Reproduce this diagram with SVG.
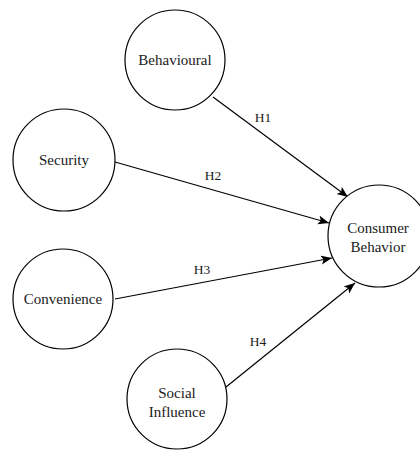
<svg xmlns="http://www.w3.org/2000/svg" width="420" height="450" viewBox="0 0 420 450">
  <style>
    .node circle { fill: #ffffff; stroke: #000000; stroke-width: 1.2; }
    .node text { font-family: "Liberation Serif", "Times New Roman", serif; font-size: 15px; fill: #1a1a1a; text-anchor: middle; }
    .edge line { stroke: #000000; stroke-width: 1.2; fill: none; }
    .label { font-family: "Liberation Serif", "Times New Roman", serif; font-size: 13.5px; fill: #1a1a1a; text-anchor: middle; }
  </style>
  <defs>
    <marker id="arrow" markerUnits="userSpaceOnUse" markerWidth="12" markerHeight="10" refX="11" refY="4.5" orient="auto">
      <path d="M0,0 L11,4.5 L0,9 L2.5,4.5 Z" fill="#000000"/>
    </marker>
  </defs>
  <rect width="420" height="450" fill="#ffffff"/>

  <g id="connectors" class="edge">
    <line x1="213" y1="97" x2="348" y2="197" marker-end="url(#arrow)"/>
    <line x1="115" y1="162" x2="329" y2="223" marker-end="url(#arrow)"/>
    <line x1="115" y1="299" x2="332" y2="258" marker-end="url(#arrow)"/>
    <line x1="226" y1="387" x2="355" y2="283" marker-end="url(#arrow)"/>
    <text class="label" x="263" y="122">H1</text>
    <text class="label" x="213" y="180">H2</text>
    <text class="label" x="202" y="274">H3</text>
    <text class="label" x="258" y="346">H4</text>
  </g>

  <g id="behavioural" class="node">
    <circle cx="175" cy="60" r="50"/>
    <text x="175" y="65">Behavioural</text>
  </g>
  <g id="security" class="node">
    <circle cx="64" cy="160" r="51"/>
    <text x="64" y="165">Security</text>
  </g>
  <g id="convenience" class="node">
    <circle cx="63" cy="299" r="50"/>
    <text x="63" y="304">Convenience</text>
  </g>
  <g id="social-influence" class="node">
    <circle cx="177" cy="399" r="50"/>
    <text x="177" y="398">Social</text>
    <text x="177" y="417">Influence</text>
  </g>
  <g id="consumer-behavior" class="node">
    <circle cx="379" cy="236" r="51"/>
    <text x="378" y="233">Consumer</text>
    <text x="378" y="252">Behavior</text>
  </g>
</svg>
